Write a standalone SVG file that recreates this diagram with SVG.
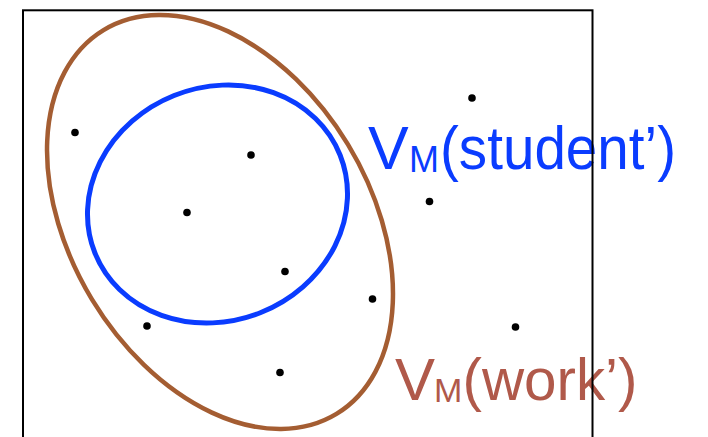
<svg xmlns="http://www.w3.org/2000/svg" width="708" height="437" viewBox="0 0 708 437">
  <style>
    .dot { fill: #000000; }
    .lbl { font-family: "Liberation Sans", Arial, Helvetica, sans-serif; }
    .blue { fill: #0A3CFF; }
    .brown { fill: #B0594A; }
  </style>
  <rect width="708" height="437" fill="#ffffff"/>
  <g id="work-set">
    <ellipse cx="220" cy="222" rx="224.5" ry="149.6" transform="rotate(58.75 220 222)" fill="none" stroke="#A45D32" stroke-width="4.5"/>
  </g>
  <g id="student-set">
    <ellipse cx="217.5" cy="204" rx="132" ry="116.8" transform="rotate(-21.8 217.5 204)" fill="none" stroke="#0A3CFF" stroke-width="5"/>
  </g>
  <g id="points">
    <circle class="dot" cx="472" cy="98" r="3.8"/>
    <circle class="dot" cx="75" cy="132.5" r="3.8"/>
    <circle class="dot" cx="251" cy="155" r="3.8"/>
    <circle class="dot" cx="187" cy="212.5" r="3.8"/>
    <circle class="dot" cx="429.5" cy="201.5" r="3.8"/>
    <circle class="dot" cx="285" cy="271.5" r="3.8"/>
    <circle class="dot" cx="372.5" cy="299" r="3.8"/>
    <circle class="dot" cx="147" cy="326" r="3.8"/>
    <circle class="dot" cx="515.5" cy="327" r="3.8"/>
    <circle class="dot" cx="280" cy="372.5" r="3.8"/>
  </g>
  <g id="label-student" class="lbl blue">
    <text x="368" y="169" font-size="61">V<tspan x="409" y="172" font-size="36">M</tspan><tspan x="440" y="169" textLength="236" lengthAdjust="spacingAndGlyphs">(student’)</tspan></text>
  </g>
  <g id="label-work" class="lbl brown">
    <text x="395" y="400" font-size="60">V<tspan x="434" y="402" font-size="34">M</tspan><tspan x="462.5" y="400" textLength="175" lengthAdjust="spacingAndGlyphs">(work’)</tspan></text>
  </g>
  <g id="frame">
    <rect x="23" y="10.3" width="569.5" height="440" fill="none" stroke="#000000" stroke-width="2"/>
  </g>
</svg>
